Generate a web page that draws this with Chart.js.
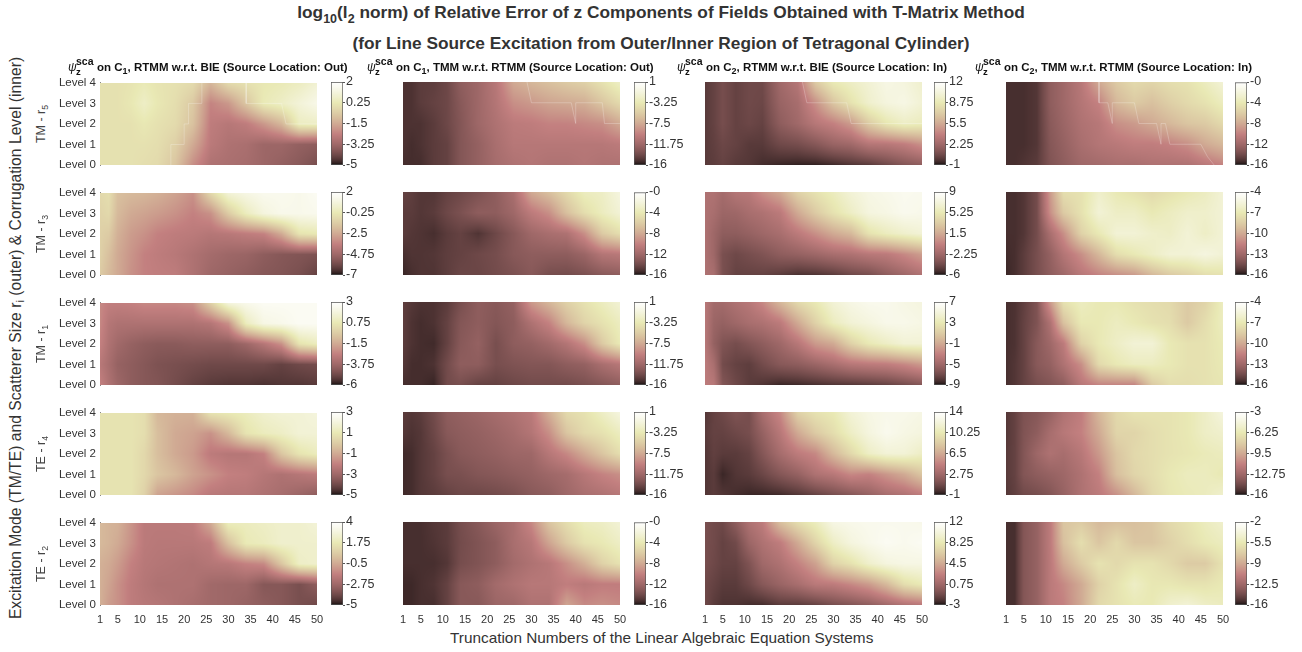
<!DOCTYPE html>
<html>
<head>
<meta charset="utf-8">
<title>T-Matrix relative error</title>
<script src="https://cdn.jsdelivr.net/npm/chart.js@4"></script>
<style>
  html, body { margin: 0; background: #fff; overflow: hidden; }
  #page { position: relative; width: 1302px; height: 652px; font-family: "Liberation Sans", Arial, sans-serif; color: #262626; }
  #page canvas { position: absolute; }
  .txt { position: absolute; white-space: nowrap; line-height: 1; }
  .main { left: 0; width: 1322px; text-align: center; font-weight: bold; font-size: 17.3px; color: #333; }
  .main sub { font-size: 12.5px; line-height: 0; vertical-align: -5px; }
  .sub { font-weight: bold; font-size: 11.5px; color: #111; }
  .sub sub { font-size: 9px; line-height: 0; vertical-align: -3px; }
  .psi { position: relative; display: inline-block; width: 29px; font-weight: normal; font-style: italic; font-size: 12px; }
  .psi b { position: absolute; left: 8px; top: -5px; font-size: 10.5px; font-style: normal; }
  .psi i { position: absolute; left: 8px; top: 6px; font-size: 9.5px; font-weight: bold; font-style: normal; }
  .vert { transform-origin: 0 0; transform: rotate(-90deg) translateX(-50%); }
  .vert sub { font-size: 70%; line-height: 0; vertical-align: -3px; }
</style>
</head>
<body>
<div id="page"></div>
<script>
// Truncation number of each column, level of each row (top row first)
const truncation = [1, 3, 5, 8, 11, 14, 18, 22, 26, 30, 34, 38, 42, 46, 50];
const levels = [4, 3, 2, 1, 0];
const truncationTicks = [1, 5, 10, 15, 20, 25, 30, 35, 40, 45, 50];

// TM - r5
const tmR5C1 = [
  [0,0,0,.1,.3,.1,0,-.2,-1.2,-.2,0,.2,.3,.5,.9],
  [0,0,0,.2,.6,.2,-.1,-.7,-2.3,-1.9,-.8,.3,.6,1.0,1.4],
  [0,0,0,0,.2,0,-.2,-.9,-2.5,-2.7,-2.5,-1.9,-1.2,.5,.6],
  [0,0,0,0,0,-.1,-.5,-1.5,-2.6,-2.9,-3.0,-3.3,-3.3,-3.5,-3.6],
  [0,0,0,0,-.1,-.2,-.8,-2.1,-2.9,-3.0,-3.1,-3.3,-3.5,-3.7,-4.0],
];
const tmR5C1Ticks = ["-5", "-3.25", "-1.5", "0.25", "2"];
const tmR5C1Edge = [[17,0],[17,1],[20,1],[20,2],[21,2],[21,3],[24,3],[24,4],null,[34,4],[34,3],[42,3],[43,2],[50,2]];

const tmR5C2 = [
  [-15,-15,-14.6,-14.5,-14,-12.6,-11.8,-10.4,-7.5,-6.7,-6.1,-5.5,-5,-3.8,-2.4],
  [-15,-15,-14.6,-14.3,-14,-12.9,-11.8,-10.6,-8.9,-8.4,-7.8,-7.5,-7.2,-5.8,-4.4],
  [-15,-15,-15,-14.6,-14,-13.1,-11.8,-10.9,-10.1,-9.9,-9.5,-9.5,-9.2,-8.9,-7.5],
  [-15,-15.2,-15,-14.6,-14.3,-13.1,-12.3,-11.2,-10.4,-10.4,-10.4,-10.4,-10.4,-10.4,-10.1],
  [-15.2,-15.2,-15.2,-14.6,-14.3,-13.1,-12.3,-11.4,-10.9,-10.6,-10.9,-10.9,-10.6,-10.9,-10.9],
];
const tmR5C2Ticks = ["-16", "-11.75", "-7.5", "-3.25", "1"];
const tmR5C2Edge = [[29,4],[30,3],[39,3],[40,2],[40,3],[46,3],[46.5,2],[50,2]];

const tmR5C3 = [
  [0,.3,.8,.3,.6,.6,2.3,3.2,7.1,8.8,9.4,10,10.7,10.4,9.7],
  [0,.3,.8,.3,.6,.5,2,2.6,4.5,6.8,8.4,9.7,10.4,10.7,10],
  [0,.3,.8,.3,.5,.3,1.6,2.3,3.3,3.9,4.9,7.1,8.6,9.4,9.1],
  [0,.2,.5,.3,0,0,.6,.8,1.3,2,2.3,3.2,3.3,3.7,4.5],
  [0,.1,.3,0,-.1,-.4,-.6,-.7,-.7,-.5,-.2,0,.6,1.2,1.6],
];
const tmR5C3Ticks = ["-1", "2.25", "5.5", "8.75", "12"];
const tmR5C3Edge = [[23,4],[24,3],[33,3],[34,2],[50,2]];

const tmR5C4 = [
  [-15.2,-15.2,-15.2,-14.9,-12.8,-12,-10.7,-8,-6.1,-5.1,-5.4,-4.8,-4.5,-3.5,-2.4],
  [-15.2,-15.2,-15.2,-14.9,-12.8,-12,-10.9,-9.9,-7.2,-6.1,-6.7,-5.8,-5.1,-4.5,-3.5],
  [-15.2,-15.2,-15.2,-14.9,-13,-12.2,-11.2,-10.7,-9.3,-8.8,-8,-7.2,-6.4,-6.1,-5.1],
  [-15.2,-15.2,-15.2,-14.9,-13.2,-12.5,-11.5,-10.9,-10.6,-10.2,-10.2,-9.9,-9.3,-8,-7.2],
  [-15.2,-15.2,-15,-14.7,-13.4,-12.8,-12,-11.8,-11.5,-11.5,-11.2,-11.2,-11.2,-10.6,-9.9],
];
const tmR5C4Ticks = ["-16", "-12", "-8", "-4", "-0"];
const tmR5C4Edge = [[22,4],[22,3],[24,3],[25,2],[25,3],[30,3],[31,2],[35,2],[36,1],[36,2],[37,2],[38,1],[45,1],[46.5,0.4],[48,0]];

// TM - r3
const tmR3C1 = [
  [-.9,-.7,-1.8,-2,-2.1,-2.3,-2.7,-3.2,-.9,.7,1.1,1.4,1.4,1.3,1.6],
  [-1.1,-.9,-2,-2.5,-2.7,-2.9,-3.2,-3.6,-3.2,-1.4,0,.9,1.3,1.3,1.4],
  [-1.2,-1.4,-2.3,-2.9,-3.2,-3.6,-3.8,-3.9,-4.1,-4,-3.8,-3.6,-2.5,-.5,-.3],
  [-1.2,-1.8,-2.5,-3.1,-3.6,-3.8,-4,-4.3,-4.6,-4.8,-4.9,-5.2,-5.4,-5.5,-5.6],
  [-1.4,-2,-2.5,-3.2,-3.6,-3.7,-3.8,-4.3,-4.8,-5,-5.2,-5.4,-5.5,-5.7,-6.1],
];
const tmR3C1Ticks = ["-7", "-4.75", "-2.5", "-0.25", "2"];

const tmR3C2 = [
  [-14.4,-14.6,-14.9,-14.9,-14.4,-14.1,-13.6,-12.8,-11.5,-8,-6.7,-5.1,-3.5,-3.2,-1.9],
  [-14.7,-14.7,-14.9,-14.7,-14.1,-13.6,-12.8,-12.8,-12,-10.4,-9.3,-6.7,-4.8,-3.5,-2.4],
  [-14.7,-14.9,-15,-15.2,-14.7,-14.4,-15,-14.1,-13.1,-12,-11.5,-11.2,-9.3,-6.1,-4.8],
  [-15.2,-15,-15,-14.9,-14.6,-14.4,-14.1,-13.8,-13.1,-12.8,-12.8,-12.8,-12.2,-10.9,-10.6],
  [-15.5,-15.2,-15,-15,-14.6,-14.2,-14.2,-13.9,-13.6,-13.1,-13.8,-13.9,-13.6,-13.1,-12.8],
];
const tmR3C2Ticks = ["-16", "-12", "-8", "-4", "-0"];

const tmR3C3 = [
  [-1.5,-1.5,-2,-1.2,-1,.3,1.5,3.8,4.8,5.7,6.8,7.5,7.8,8.1,8],
  [-1.5,-1.8,-2.4,-2.3,-1.8,-1.5,-.8,1.5,3.3,4.8,6,7.2,7.5,8,7.8],
  [-1.5,-2.3,-3,-3,-2.7,-2.3,-1.8,-.8,.3,1.5,2.3,4.8,5.7,6.3,6.8],
  [-1.5,-2.3,-3.8,-4.2,-3.9,-3.6,-3,-2.7,-2.3,-1.8,-1.5,-1,-.8,0,.9],
  [-1.5,-1.8,-3.8,-4.5,-4.5,-4.5,-4.8,-5.2,-5.1,-4.8,-4.2,-3.9,-3,-2.3,-1.5],
];
const tmR3C3Ticks = ["-6", "-2.25", "1.5", "5.25", "9"];

const tmR3C4 = [
  [-15.4,-15.4,-15.2,-14.4,-10.6,-7.6,-7.4,-6.2,-7,-7.4,-7.8,-7.4,-7,-6.6,-5.8],
  [-15.4,-15.4,-15.2,-14.4,-11,-8.6,-7.4,-5.8,-6.4,-6.4,-7,-6.6,-6.2,-6.2,-5.8],
  [-15.4,-15.4,-15.2,-14.4,-12.6,-11,-8.2,-7,-5.8,-5.8,-6.2,-6.4,-5.8,-6.4,-5.8],
  [-15.5,-15.4,-15,-14.3,-13.4,-12.2,-11,-9.4,-7.6,-7,-6.4,-5.8,-5.8,-5.4,-5.8],
  [-15.6,-15.4,-15,-14.3,-13.6,-13,-12,-11.4,-11,-10.6,-9.4,-8.6,-8.2,-7.6,-7.4],
];
const tmR3C4Ticks = ["-16", "-13", "-10", "-7", "-4"];

// TM - r1
const tmR1C1 = [
  [-2.4,-2.7,-2.7,-2.6,-2.4,-2.4,-2.4,-2.2,-.2,1.9,2.3,2.6,2.6,2.6,2.6],
  [-2.4,-3.1,-3.3,-3.3,-3.3,-3.3,-3.3,-3.3,-3.1,-2.2,1,2.1,2.3,2.6,2.6],
  [-2.6,-3.3,-3.7,-4,-4.2,-4.3,-4.3,-4.2,-4.2,-4.2,-3.8,-3.1,-2.2,.5,1],
  [-3,-3.5,-4,-4.2,-4.4,-4.6,-4.7,-4.8,-4.9,-4.9,-4.9,-4.9,-5.1,-4.9,-4.8],
  [-2.6,-3.3,-3.8,-4.2,-4.4,-4.5,-4.8,-5.1,-5.3,-5.4,-5.4,-5.5,-5.4,-5.4,-5.3],
];
const tmR1C1Ticks = ["-6", "-3.75", "-1.5", "0.75", "3"];

const tmR1C2 = [
  [-14.5,-14.8,-15,-15,-14.6,-13.6,-12.6,-12.9,-12.3,-8.4,-6.7,-5,-3.8,-2.7,-1.6],
  [-14.5,-15,-15.2,-15,-14.3,-13.1,-12.6,-13.1,-12.6,-10.9,-9.5,-6.7,-4.8,-3.8,-2.7],
  [-14.6,-15,-15.2,-15.3,-14.3,-12.9,-12.3,-13.6,-12.6,-12.3,-11.6,-10.6,-8.9,-5.5,-3.2],
  [-14.8,-15.2,-15.2,-15,-13.8,-12.6,-12.6,-13.6,-13.3,-13.1,-13.1,-12.6,-12.3,-11.2,-10.4],
  [-15.2,-15.2,-15.2,-15.5,-13.8,-13.6,-14.3,-14.3,-14,-13.8,-13.8,-13.8,-13.5,-13.1,-12.6],
];
const tmR1C2Ticks = ["-16", "-11.75", "-7.5", "-3.25", "1"];

const tmR1C3 = [
  [-3.7,-4.8,-4.8,-4.2,-3.7,-2.6,-.2,1.9,3,4.6,5.4,5.9,5.9,5.4,5.1],
  [-3.7,-5.2,-5.5,-5,-4.5,-4.2,-3.4,-1,1.4,3.5,4.6,5.1,5.7,5.7,5.4],
  [-3.7,-5.5,-6.4,-6.8,-6.3,-5.8,-5,-3.7,-1.8,-1,1.4,3,3.8,4.6,4.6],
  [-3.4,-4.5,-6.9,-7.4,-7.6,-6.9,-6.1,-5.8,-5.2,-4.5,-3.7,-3.4,-3.2,-2.6,-1.8],
  [-3.4,-3.7,-6.3,-7.1,-7.7,-8,-8.5,-8.4,-8.2,-8,-7.9,-7.7,-7.4,-6.9,-6.3],
];
const tmR1C3Ticks = ["-9", "-5", "-1", "3", "7"];

const tmR1C4 = [
  [-15.4,-15.3,-14.9,-14.1,-10.6,-7.4,-6.6,-7,-7,-7.4,-7.6,-7.8,-8.6,-8.1,-6.6],
  [-15.4,-15.3,-14.8,-14.1,-12.4,-9,-7,-7,-6.6,-7,-7.4,-7.6,-8.6,-7.6,-6.6],
  [-15.4,-15.3,-14.8,-13.8,-13,-11.8,-8.2,-7,-6.4,-5.8,-5.8,-7,-7.4,-7.4,-6.9],
  [-15.4,-15.2,-14.8,-13.8,-13.4,-12.4,-11,-7.8,-7,-6.6,-6.6,-7,-7.4,-7.4,-7],
  [-15.4,-15.2,-14.8,-14.3,-14,-13.6,-12,-11.4,-11.4,-11.4,-8.6,-7.6,-7.6,-7.4,-7.2],
];
const tmR1C4Ticks = ["-16", "-13", "-10", "-7", "-4"];

// TE - r4
const teR4C1 = [
  [.8,.8,.8,.8,.6,-.6,-.8,-.8,.8,1,1.2,1.6,1.8,1.8,2],
  [.8,.8,.8,.8,.6,-.4,-1,-1.2,-1.6,-.6,.8,1.2,1.4,1.8,1.8],
  [.8,.8,.8,.8,.4,-.4,-1,-1.4,-2.2,-2.4,-2.4,-2,-.2,.8,1.2],
  [.8,.8,.8,.8,.4,-.2,-.6,-1.2,-1.6,-2,-2.1,-2.4,-2.6,-2.4,-2.2],
  [.8,.8,.8,.8,.2,-1.2,-1.5,-1.8,-2.3,-2.4,-2.4,-2.6,-2.8,-3.1,-3.4],
];
const teR4C1Ticks = ["-5", "-3", "-1", "1", "3"];

const teR4C2 = [
  [-14.6,-14.8,-14.6,-13.8,-12.6,-12.3,-11.9,-11.4,-10.9,-10.2,-7.2,-4.4,-3.8,-2.4,-1],
  [-14.8,-15,-14.8,-14,-12.9,-12.6,-12.3,-11.9,-11.4,-10.6,-8.9,-5.8,-4.4,-3.8,-2.7],
  [-15.3,-15.2,-14.8,-14.3,-13.5,-12.9,-12.6,-12.3,-11.9,-11.8,-10.4,-9.2,-7.5,-5.8,-4.1],
  [-15.3,-15.2,-14.8,-14.3,-13.6,-13.5,-13.1,-12.9,-12.6,-12.3,-11.8,-11.4,-10.4,-9.5,-8.9],
  [-15.3,-15.2,-14.8,-14.6,-14.3,-14,-14,-13.8,-13.5,-12.9,-12.6,-11.8,-11.2,-10.9,-10.4],
];
const teR4C2Ticks = ["-16", "-11.75", "-7.5", "-3.25", "1"];

const teR4C3 = [
  [0,.5,.8,1.4,1.1,3.2,5,8.8,9.8,10.3,11.8,12.5,12.8,12.8,12.5],
  [.2,.5,.5,.8,1.1,2.3,4,6.5,8.3,9.5,11,12.2,13,12.5,12.2],
  [0,.4,.2,.2,.5,1.6,3.1,4.3,5,7.3,9.2,11,11.8,11.8,11],
  [0,.2,-.5,0,.2,.7,1.6,2.3,3.5,4,5,4.7,5.6,6.5,8],
  [0,.2,0,-.3,-.5,-.5,-.4,0,.5,1.1,1.6,2.3,3.1,3.5,4.3],
];
const teR4C3Ticks = ["-1", "2.75", "6.5", "10.25", "14"];

const teR4C4 = [
  [-15.1,-14.7,-14,-13.7,-13.1,-12.1,-11.3,-8.9,-7.2,-6.6,-6.6,-6.6,-6.3,-5.6,-4.6],
  [-15.1,-14.7,-13.9,-13.4,-12.4,-11.7,-11.1,-9.5,-7.4,-7.4,-6.9,-6.6,-6.3,-5.6,-5.3],
  [-15,-14.7,-13.8,-12.8,-12.1,-12.4,-11.7,-10.2,-8.2,-7.2,-6.9,-6.6,-6.4,-6.1,-5.9],
  [-15,-14.7,-13.8,-13.4,-13.1,-12.8,-12.1,-11.1,-8.5,-7.4,-6.9,-6.3,-5.9,-5.9,-6.3],
  [-15.1,-14.8,-14.4,-14.2,-13.8,-13.1,-12.1,-11.5,-10.5,-8.9,-7.2,-6.4,-6.1,-5.9,-5.3],
];
const teR4C4Ticks = ["-16", "-12.75", "-9.5", "-6.25", "-3"];

// TE - r2
const teR2C1 = [
  [0,-.2,-.3,-1.1,-1.9,-1.9,-1.9,-1.8,-.5,2,2,2.2,2.4,2.4,2.7],
  [0,-.2,-.5,-1.2,-1.9,-2,-2,-2,-1.8,.2,1.8,2,2.4,2.4,2.4],
  [-.3,-.5,-.9,-1.6,-2,-2.1,-2.2,-2.3,-2.1,-2,-1.6,-1.4,.4,2.2,2.4],
  [-.3,-.7,-1.2,-1.8,-2.1,-2.3,-2.3,-2.3,-2.7,-2.8,-2.8,-3.4,-3.4,-3.7,-3.2],
  [-.3,-.9,-1.2,-1.8,-2,-2.1,-2.3,-2.5,-2.7,-2.8,-3,-3.2,-3.4,-3.7,-3.9],
];
const teR2C1Ticks = ["-5", "-2.75", "-0.5", "1.75", "4"];

const teR2C2 = [
  [-15.2,-15.2,-15.2,-14.9,-14.7,-13.8,-13.1,-12.2,-11.5,-9.6,-6.4,-4.8,-3.5,-3.2,-2.4],
  [-15.2,-15.2,-15.2,-15,-14.7,-13.9,-13.4,-12.8,-11.5,-10.7,-8.3,-6.1,-4.5,-4,-3.2],
  [-15.2,-15.2,-15.2,-15.2,-14.9,-13.8,-13.4,-12.8,-11.8,-11.2,-10.7,-9.3,-7.7,-5.6,-4.5],
  [-15.4,-15.4,-15.2,-15,-14.4,-13.1,-12.8,-11.8,-11.2,-10.7,-10.7,-10.2,-10.6,-10.2,-10.2],
  [-15.4,-15.4,-15.2,-15.2,-14.4,-13.1,-13.1,-12.2,-12,-11.2,-11.2,-8.3,-9.6,-9.3,-9.6],
];
const teR2C2Ticks = ["-16", "-12", "-8", "-4", "-0"];

const teR2C3 = [
  [-.8,-1.1,-1.2,0,1.5,2.3,5.7,7.5,8.7,10.5,10.8,11,11,11,10.8],
  [-.9,-1.1,-1.5,-1.1,.6,1.5,2.4,4.5,6.9,9,10.2,10.8,11.3,11,11.3],
  [-.9,-1.2,-1.5,-1.5,-.6,.8,1.5,2.7,4.1,6.8,7.8,9.3,10.2,10.5,10.5],
  [-1.2,-1.5,-1.8,-1.8,-1.2,-.3,.5,1.2,2.1,2.3,3,3.8,5.3,7.5,8.3],
  [-1.2,-1.8,-2.1,-2.1,-2.3,-2.3,-1.8,-1.8,-1.5,-.9,-.5,0,.8,1.5,2],
];
const teR2C3Ticks = ["-3", "0.75", "4.5", "8.25", "12"];

const teR2C4 = [
  [-15.3,-15.3,-13.6,-12.9,-11.1,-7.6,-7.3,-8.2,-7.9,-7.9,-7.6,-6.5,-5.9,-5.1,-4.5],
  [-15.3,-15.3,-13.6,-12.9,-11.1,-7.9,-6.2,-7.6,-6.5,-7.6,-7.6,-6.9,-6.2,-5.5,-5.1],
  [-15.3,-15.3,-13.6,-12.9,-11.2,-9,-7.3,-5.9,-6.5,-5.9,-5.9,-6.5,-7.3,-7.3,-5.9],
  [-15.3,-15.3,-13.6,-12.9,-11.2,-10.4,-9,-6.9,-5.9,-4.8,-5.6,-5.6,-5.9,-5.9,-5.5],
  [-15.3,-15.3,-13.6,-12.9,-11.2,-10.7,-9,-6.5,-5.9,-5.4,-5.5,-4.5,-4.1,-4.8,-5.1],
];
const teR2C4Ticks = ["-16", "-12.5", "-9", "-5.5", "-2"];

const rowNames = ["TM - r<sub>5</sub>", "TM - r<sub>3</sub>", "TM - r<sub>1</sub>", "TE - r<sub>4</sub>", "TE - r<sub>2</sub>"];
const colTitles = [
  "on C<sub>1</sub>, RTMM w.r.t. BIE (Source Location: Out)",
  "on C<sub>1</sub>, TMM w.r.t. RTMM (Source Location: Out)",
  "on C<sub>2</sub>, RTMM w.r.t. BIE (Source Location: In)",
  "on C<sub>2</sub>, TMM w.r.t. RTMM (Source Location: In)",
];

const grids = [
  [tmR5C1, tmR5C2, tmR5C3, tmR5C4],
  [tmR3C1, tmR3C2, tmR3C3, tmR3C4],
  [tmR1C1, tmR1C2, tmR1C3, tmR1C4],
  [teR4C1, teR4C2, teR4C3, teR4C4],
  [teR2C1, teR2C2, teR2C3, teR2C4],
];
const barTicks = [
  [tmR5C1Ticks, tmR5C2Ticks, tmR5C3Ticks, tmR5C4Ticks],
  [tmR3C1Ticks, tmR3C2Ticks, tmR3C3Ticks, tmR3C4Ticks],
  [tmR1C1Ticks, tmR1C2Ticks, tmR1C3Ticks, tmR1C4Ticks],
  [teR4C1Ticks, teR4C2Ticks, teR4C3Ticks, teR4C4Ticks],
  [teR2C1Ticks, teR2C2Ticks, teR2C3Ticks, teR2C4Ticks],
];
const edges = { "0,0": tmR5C1Edge, "0,1": tmR5C2Edge, "0,2": tmR5C3Edge, "0,3": tmR5C4Edge };

// Layout of the page
const plotLeft = [100, 403, 705, 1006];
const plotTop = [82, 192, 302, 412, 522];
const barLeft = [331, 634, 934, 1235];
const plotW = 217, plotH = 83, barW = 12;
const titleLeft = [68, 367, 677, 975];

const page = document.getElementById("page");
const tickColor = "#333";

// MATLAB pink colormap
function pink(t) {
  const c = (a, b) => Math.max(0, Math.min(1, (t - a) / b));
  return [c(0, 0.375), c(0.375, 0.375), c(0.75, 0.25)].map((h) => Math.round(255 * Math.sqrt((2 * t + h) / 3)));
}

function addText(cls, html, style) {
  const d = document.createElement("div");
  d.className = "txt " + cls;
  d.innerHTML = html;
  Object.assign(d.style, style);
  page.appendChild(d);
}

function addCanvas(left, top, w, h) {
  const c = document.createElement("canvas");
  c.width = w;
  c.height = h;
  c.style.left = left + "px";
  c.style.top = top + "px";
  page.appendChild(c);
  return c;
}

// Paints the grid nodes of dataset 0 with bilinear shading, going through the chart's scales
const heatShade = {
  id: "heatShade",
  beforeDatasetsDraw(chart) {
    const a = chart.chartArea;
    const sx = chart.scales.x, sy = chart.scales.y;
    const ds = chart.data.datasets[0];
    const nx = truncation.length, ny = levels.length;
    const x0 = Math.round(a.left), y0 = Math.round(a.top);
    const w = Math.round(a.right) - x0, h = Math.round(a.bottom) - y0;
    const img = chart.ctx.createImageData(w, h);
    for (let py = 0; py < h; py++) {
      const l = sy.getValueForPixel(y0 + py + 0.5);
      const rf = Math.max(0, Math.min(ny - 1.001, levels[0] - l));
      const r = Math.floor(rf), fy = rf - r;
      for (let px = 0; px < w; px++) {
        const n = sx.getValueForPixel(x0 + px + 0.5);
        let c = 0;
        while (c < nx - 2 && truncation[c + 1] < n) c++;
        const fx = Math.max(0, Math.min(1, (n - truncation[c]) / (truncation[c + 1] - truncation[c])));
        const v00 = ds.data[r * nx + c].v, v01 = ds.data[r * nx + c + 1].v;
        const v10 = ds.data[(r + 1) * nx + c].v, v11 = ds.data[(r + 1) * nx + c + 1].v;
        const v = (v00 * (1 - fx) + v01 * fx) * (1 - fy) + (v10 * (1 - fx) + v11 * fx) * fy;
        const col = pink(Math.max(0, Math.min(1, (v - ds.lo) / (ds.hi - ds.lo))));
        const i = (py * w + px) * 4;
        img.data[i] = col[0];
        img.data[i + 1] = col[1];
        img.data[i + 2] = col[2];
        img.data[i + 3] = 255;
      }
    }
    chart.ctx.putImageData(img, x0, y0);
  },
};

function drawPanel(row, col) {
  const grid = grids[row][col];
  const ticks = barTicks[row][col];
  const lo = parseFloat(ticks[0]), hi = parseFloat(ticks[ticks.length - 1]);
  const isLeft = col === 0, isBottom = row === grids.length - 1;

  const nodes = [];
  levels.forEach((lv, r) => truncation.forEach((n, c) => nodes.push({ x: n, y: lv, v: grid[r][c] })));
  const datasets = [{ data: nodes, lo: lo, hi: hi, pointRadius: 0, showLine: false }];
  const edge = edges[row + "," + col];
  if (edge) {
    datasets.push({
      data: edge.map((p) => (p ? { x: p[0], y: p[1] } : { x: NaN, y: NaN })),
      showLine: true,
      spanGaps: false,
      pointRadius: 0,
      borderWidth: 0.8,
      borderColor: "rgba(255,255,255,0.3)",
    });
  }

  new Chart(addCanvas(plotLeft[col] - 46, plotTop[row] - 10, 46 + plotW + 12, 10 + plotH + 24), {
    type: "scatter",
    data: { datasets: datasets },
    plugins: [heatShade],
    options: {
      responsive: false,
      animation: false,
      events: [],
      layout: { padding: { left: isLeft ? 2 : 46, right: 12, top: 10, bottom: isBottom ? 2 : 24 } },
      plugins: { legend: { display: false }, tooltip: { enabled: false } },
      scales: {
        x: {
          type: "linear",
          min: 1,
          max: 50,
          display: isBottom,
          afterBuildTicks: (s) => { s.ticks = truncationTicks.map((v) => ({ value: v })); },
          afterFit: (s) => { s.height = isBottom ? 22 : 0; },
          border: { display: false },
          grid: { display: false },
          ticks: { autoSkip: false, maxRotation: 0, padding: 0, color: tickColor, font: { family: "Liberation Sans", size: 11 }, callback: (v) => String(v) },
        },
        y: {
          type: "linear",
          min: 0,
          max: 4,
          display: isLeft,
          afterBuildTicks: (s) => { s.ticks = levels.map((v) => ({ value: v })); },
          afterFit: (s) => { s.width = isLeft ? 44 : 0; },
          border: { display: true, color: "#888" },
          grid: { drawOnChartArea: false, drawTicks: false },
          ticks: { autoSkip: false, padding: 4, color: tickColor, font: { family: "Liberation Sans", size: 11.5 }, callback: (v) => "Level " + v },
        },
      },
    },
  });

  new Chart(addCanvas(barLeft[col] - 2, plotTop[row] - 10, 2 + barW + 40, 10 + plotH + 10), {
    type: "bar",
    data: {
      labels: [""],
      datasets: [{
        data: [[lo, hi]],
        barPercentage: 1,
        categoryPercentage: 1,
        borderWidth: 1,
        borderSkipped: false,
        borderColor: "#555",
        backgroundColor: (ctx) => {
          const c = ctx.chart;
          if (!c.chartArea) return "#888";
          const g = c.ctx.createLinearGradient(0, c.chartArea.bottom, 0, c.chartArea.top);
          for (let i = 0; i <= 64; i++) {
            const p = pink(i / 64);
            g.addColorStop(i / 64, "rgb(" + p.join(",") + ")");
          }
          return g;
        },
      }],
    },
    options: {
      responsive: false,
      animation: false,
      events: [],
      layout: { padding: { left: 2, right: 2, top: 10, bottom: 10 } },
      plugins: { legend: { display: false }, tooltip: { enabled: false } },
      scales: {
        x: { display: false },
        y: {
          position: "right",
          min: lo,
          max: hi,
          afterBuildTicks: (s) => { s.ticks = ticks.map((t) => ({ value: parseFloat(t) })); },
          afterFit: (s) => { s.width = 38; },
          border: { display: false },
          grid: { drawOnChartArea: false, drawTicks: true, tickLength: 2, color: "#555" },
          ticks: { autoSkip: false, padding: 1, color: tickColor, font: { family: "Liberation Sans", size: 12.5 }, callback: (v, i) => ticks[i] },
        },
      },
    },
  });
}

grids.forEach((cols, row) => cols.forEach((g, col) => drawPanel(row, col)));

// Titles and axis labels
addText("main", "log<sub>10</sub>(l<sub>2</sub> norm) of Relative Error of z Components of Fields Obtained with T-Matrix Method", { top: "4px" });
addText("main", "(for Line Source Excitation from Outer/Inner Region of Tetragonal Cylinder)", { top: "35px" });
colTitles.forEach((t, col) => {
  addText("sub", '<span class="psi">&psi;<b>sca</b><i>z</i></span>' + t, { left: titleLeft[col] + "px", top: "61px" });
});
rowNames.forEach((t, row) => {
  addText("vert", t, { left: "35px", top: plotTop[row] + plotH / 2 + "px", fontSize: "12.5px", color: "#444" });
});
addText("vert", "Excitation Mode (TM/TE) and Scatterer Size r<sub>i</sub> (outer) &amp; Corrugation Level (inner)", { left: "8px", top: "338px", fontSize: "15.7px", color: "#333" });
addText("", "Truncation Numbers of the Linear Algebraic Equation Systems", { left: "450px", top: "630px", fontSize: "15.35px", color: "#333" });
</script>
</body>
</html>
